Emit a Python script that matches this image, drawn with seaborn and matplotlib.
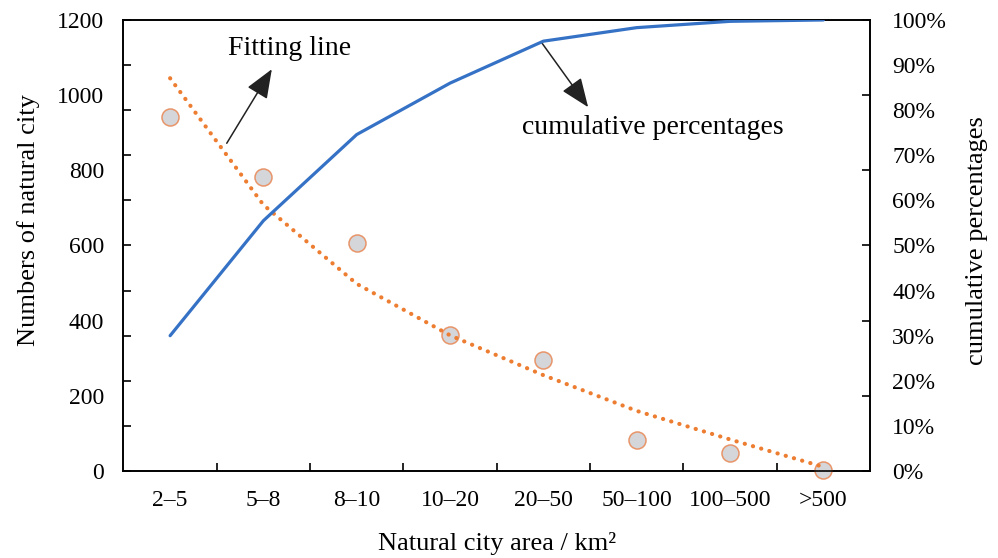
import numpy as np
import pandas as pd
import matplotlib
matplotlib.use("Agg")
import matplotlib.pyplot as plt
import seaborn as sns

# ---- data ----
categories = ["2\u20135", "5\u20138", "8\u201310", "10\u201320", "20\u201350", "50\u2013100", "100\u2013500", ">500"]
city_counts = [943, 783, 606, 361, 295, 82, 47, 4]
fitted_counts = [1045, 708, 498, 361, 255, 160, 84, 11]
cumulative_pct = [0.30, 0.555, 0.746, 0.86, 0.953, 0.983, 0.997, 1.0]
left_labels = [0, 200, 400, 600, 800, 1000, 1200]
right_labels = [0.0, 0.1, 0.2, 0.3, 0.4, 0.5, 0.6, 0.7, 0.8, 0.9, 1.0]

df = pd.DataFrame({
    "pos": np.arange(len(categories)),
    "category": categories,
    "count": city_counts,
    "fit": fitted_counts,
    "cum": cumulative_pct,
})

sns.set_style("white")
plt.rcParams["font.family"] = ["Liberation Serif", "DejaVu Serif"]
plt.rcParams["mathtext.fontset"] = "stix"
plt.rcParams["text.color"] = "black"
plt.rcParams["axes.labelcolor"] = "black"
plt.rcParams["xtick.color"] = "black"
plt.rcParams["ytick.color"] = "black"

fig = plt.figure(figsize=(9.98, 5.58), dpi=100)
ax = fig.add_axes([0.1237, 0.1559, 0.748, 0.8083])
ax2 = ax.twinx()

ORANGE = "#ed7d31"
BLUE = "#3572c6"

sns.scatterplot(data=df, x="pos", y="count", ax=ax, s=150, color="#d4d6da",
                edgecolor="#e8956a", linewidth=1.1, zorder=3, legend=False, clip_on=False)
sns.lineplot(data=df, x="pos", y="fit", ax=ax, color=ORANGE, linewidth=3.0,
             linestyle=(0, (0.05, 2.0)), dash_capstyle="round", zorder=4, legend=False)
sns.lineplot(data=df, x="pos", y="cum", ax=ax2, color=BLUE, linewidth=2.3,
             zorder=3, legend=False)

n = len(categories)
ax.set_xlim(-0.5, n - 0.5)
ax.set_ylim(0, 1200)
ax2.set_ylim(0, 1)

# x axis: labels at category centres, tick marks at boundaries
ax.set_xticks(df["pos"], categories)
ax.set_xticks(np.arange(n - 1) + 0.5, minor=True)
ax.xaxis.remove_overlapping_locs = False
ax.tick_params(axis="x", which="major", length=0, pad=14, labelsize=17, labelcolor="black")
ax.tick_params(axis="x", which="minor", length=6, width=1.2, direction="in", bottom=True, color="black")

# left axis
ax.set_yticks(left_labels, [str(v) for v in left_labels])
ax.set_yticks(np.linspace(0, 1200, 11), minor=True)
ax.yaxis.remove_overlapping_locs = False
ax.tick_params(axis="y", which="major", length=0, pad=14, labelsize=17, labelcolor="black")
ax.tick_params(axis="y", which="minor", length=6, width=1.2, direction="in", left=True, color="black")

# right axis
ax2.set_yticks(right_labels, [f"{int(round(v*100))}%" for v in right_labels])
ax2.set_yticks(np.linspace(0, 1, 7), minor=True)
ax2.yaxis.remove_overlapping_locs = False
ax2.tick_params(axis="y", which="major", length=0, pad=16, labelsize=17, labelcolor="black")
ax2.tick_params(axis="y", which="minor", length=6, width=1.2, direction="in", right=True, color="black")

for a in (ax, ax2):
    for sp in a.spines.values():
        sp.set_visible(True)
        sp.set_color("black")
        sp.set_linewidth(1.2)

ax.set_xlabel("Natural city area / km\u00b2", fontsize=19, color="black")
ax.set_ylabel("Numbers of natural city", fontsize=19, color="black")
ax2.set_ylabel("cumulative percentages", fontsize=19, color="black")
ax.xaxis.set_label_coords(0.5, -0.135)
ax.yaxis.set_label_coords(-0.112, 0.556)
ax2.yaxis.set_label_coords(1.129, 0.512)

# annotations
arrow_kw = dict(arrowstyle="-|>,head_length=1.5,head_width=0.6", color="#222222",
                lw=1.1, shrinkA=0, shrinkB=0, mutation_scale=12)
ax.annotate("", xy=(1.09, 1069), xytext=(0.607, 872), arrowprops=arrow_kw, zorder=6)
ax.text(1.275, 1125, "Fitting line", fontsize=20, ha="center", va="center", color="black")
ax.annotate("", xy=(4.48, 968), xytext=(3.975, 1142), arrowprops=arrow_kw, zorder=6)
ax.text(5.175, 913, "cumulative percentages", fontsize=20, ha="center", va="center", color="black")

fig.savefig("out.png", dpi=100, facecolor="white")
